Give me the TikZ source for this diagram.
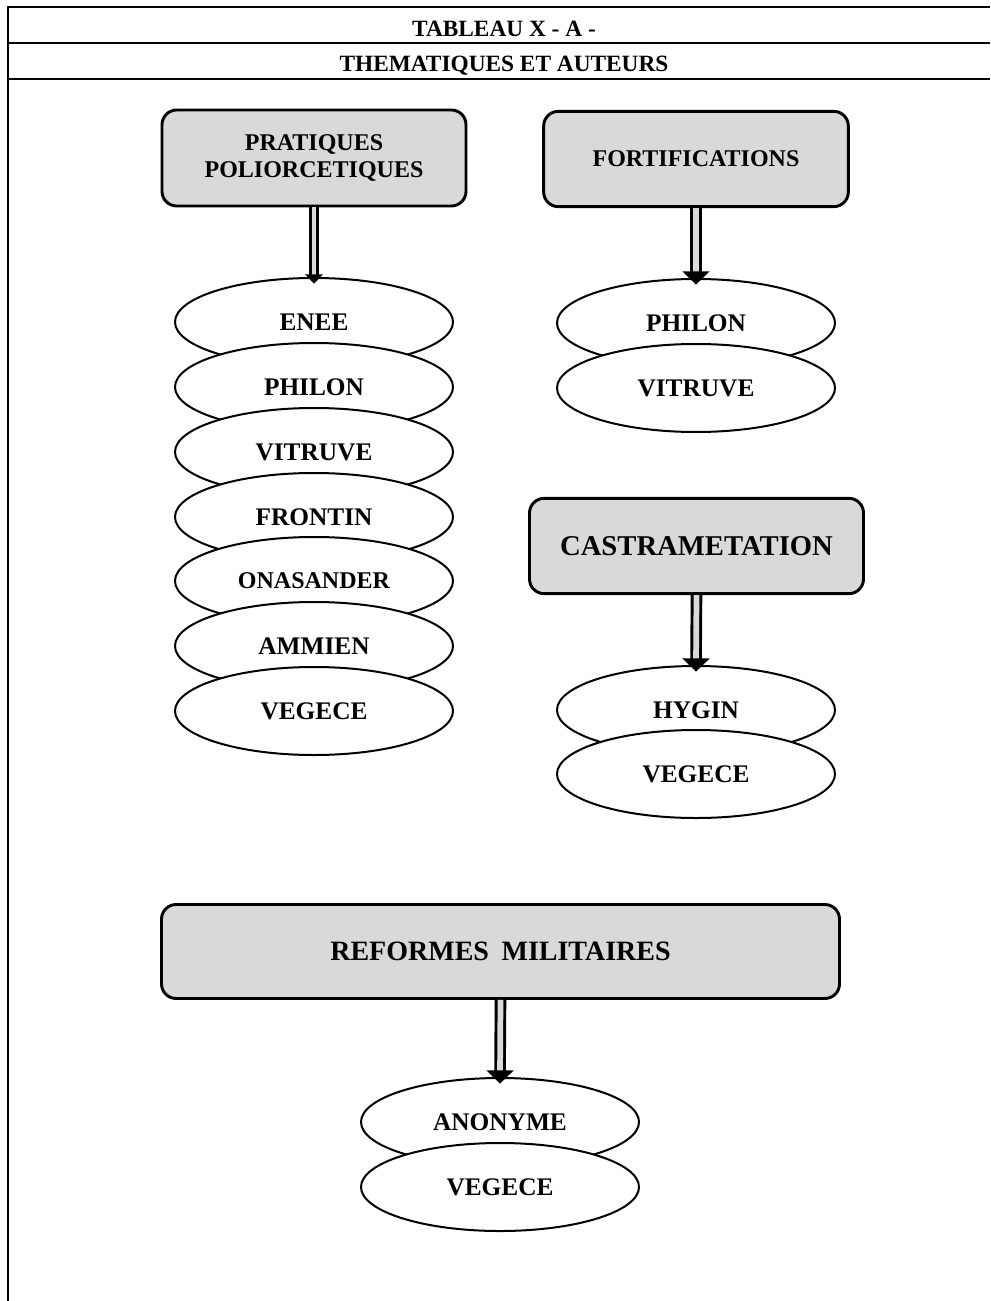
\documentclass[tikz,border=0pt]{standalone}
\usepackage{fontspec}
\setmainfont{Liberation Serif}
\usetikzlibrary{arrows.meta,shapes.geometric}
\definecolor{boxgray}{HTML}{D9D9D9}
\begin{document}
\begin{tikzpicture}[x=0.75pt,y=-0.75pt,
  rule/.style={line width=2pt},
  headtxt/.style={font=\bfseries\fontsize{17.5}{20}\selectfont, inner sep=0pt, anchor=base},
  theme/.style={draw=black, line width=2.2pt, fill=boxgray, rounded corners=11pt,
    align=center, inner sep=0pt, font=\bfseries\fontsize{18}{20.5}\selectfont},
  author/.style={ellipse, draw=black, line width=1.5pt, fill=white,
    minimum width=208.5pt, minimum height=66pt, inner sep=0pt,
    font=\bfseries\fontsize{19}{21}\selectfont},
  fatarrow/.style={draw=black, line width=2.2pt, double=boxgray, double distance=4.3pt,
    -{Triangle[length=10pt,width=20pt]}, shorten >=-5pt},
  thinarrow/.style={draw=black, line width=1.8pt, double=boxgray, double distance=3.2pt,
    -{Triangle[length=7pt,width=13pt]}, shorten >=-5pt}
]
\useasboundingbox (0,0) rectangle (990,1301);
% table header
\draw[rule] (8,7) -- (990,7);
\draw[rule] (8,43) -- (990,43);
\draw[rule] (8,79) -- (990,79);
\draw[rule] (8,6) -- (8,1301);
\node[headtxt] (t1) at (504,37) {TABLEAU X - A -};
\node[headtxt] (t2) at (504,72) {THEMATIQUES ET AUTEURS};

% theme boxes
\node[theme, minimum width=228pt, minimum height=72pt] (prat) at (314,158)
  {PRATIQUES\\POLIORCETIQUES};
\node[theme, minimum width=228.5pt, minimum height=71.5pt] (fort) at (696,159)
  {FORTIFICATIONS};
\node[theme, minimum width=250.5pt, minimum height=71.5pt, font=\bfseries\fontsize{21.5}{24}\selectfont] (cast) at (696.5,546)
  {CASTRAMETATION};
\node[theme, minimum width=508.5pt, minimum height=70.5pt, font=\bfseries\fontsize{21}{24}\selectfont] (ref) at (500.5,951.5)
  {REFORMES\hspace{0.45em}MILITAIRES};

% left column
\node[author] (l1) at (314,322) {ENEE};
\node[author] (l2) at (314,387) {PHILON};
\node[author] (l3) at (314,452) {VITRUVE};
\node[author] (l4) at (314,517) {FRONTIN};
\node[author, font=\bfseries\fontsize{18}{20}\selectfont] (l5) at (314,581) {ONASANDER};
\node[author] (l6) at (314,646) {AMMIEN};
\node[author] (l7) at (314,711) {VEGECE};

% right column
\node[author] (r1) at (696,323) {PHILON};
\node[author] (r2) at (696,388) {VITRUVE};
\node[author] (c1) at (696,710) {HYGIN};
\node[author] (c2) at (696,774) {VEGECE};

% bottom
\node[author] (b1) at (500,1122) {ANONYME};
\node[author] (b2) at (500,1187) {VEGECE};

% arrows
\draw[thinarrow] (prat.south) -- (l1.north);
\draw[fatarrow] (fort.south) -- (r1.north);
\draw[fatarrow] (cast.south) -- (c1.north);
\draw[fatarrow] (ref.south) -- (b1.north);
\end{tikzpicture}
\end{document}
